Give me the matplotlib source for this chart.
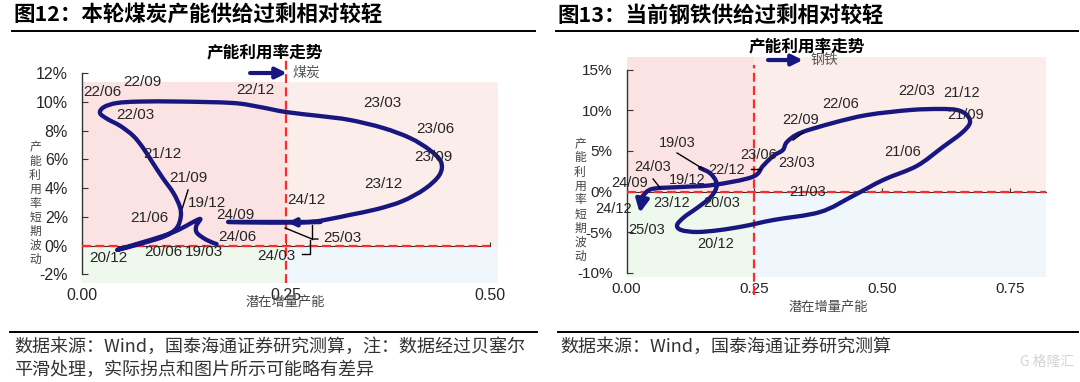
import matplotlib
matplotlib.use('Agg')
import matplotlib.pyplot as plt
from matplotlib.lines import Line2D
from matplotlib.patches import Rectangle, PathPatch
from matplotlib.path import Path

W, H = 1080, 382
CJK = ['Noto Sans CJK SC', 'DejaVu Sans']
LAT = ['Liberation Sans', 'DejaVu Sans']
plt.rcParams['font.family'] = LAT

NAVY = '#17177f'
RED = '#ff2b2b'
TXT = '#262626'
BG_TL, BG_TR, BG_BL, BG_BR = '#fce3e3', '#fbede9', '#eff8ec', '#eff7fc'

# ---------------- data: coal (图12) ----------------
coal_x = [0.165, 0.153, 0.141, 0.140, 0.145, 0.134, 0.118, 0.099, 0.075, 0.043,
          0.075, 0.102, 0.116, 0.121, 0.120, 0.112, 0.099, 0.086, 0.075, 0.063,
          0.047, 0.031, 0.022, 0.027, 0.043, 0.071, 0.120, 0.185, 0.218, 0.250,
          0.292, 0.328, 0.369, 0.402, 0.426, 0.440, 0.438, 0.420, 0.393, 0.362,
          0.328, 0.304, 0.279, 0.230, 0.179, 0.230, 0.292, 0.252]
coal_y = [0.10, 0.38, 0.87, 1.36, 1.85, 1.57, 1.08, 0.66, 0.24, -0.31,
          0.17, 0.66, 1.22, 1.99, 2.68, 3.66, 4.70, 5.82, 6.79, 7.63,
          8.33, 8.82, 9.23, 9.65, 9.93, 10.03, 10.03, 9.93, 9.65, 9.30,
          9.02, 8.75, 8.19, 7.49, 6.66, 5.82, 4.91, 3.94, 3.10, 2.54,
          2.13, 1.85, 1.64, 1.60, 1.64, 1.64, 1.64, 1.60]
coal_labels = ['22/06', '22/09', '22/03', '21/12', '21/09', '19/12', '22/12', '23/03',
               '23/06', '23/09', '23/12', '24/12', '24/09', '21/06', '24/06', '20/06',
               '19/03', '24/03', '25/03', '20/12']
coal_label_x = [0.025, 0.074, 0.066, 0.098, 0.130, 0.153, 0.213, 0.368,
                0.433, 0.431, 0.369, 0.275, 0.188, 0.083, 0.190, 0.100,
                0.150, 0.238, 0.319, 0.032]
coal_label_y = [10.70, 11.39, 9.09, 6.38, 4.70, 2.96, 10.84, 9.93,
                8.12, 6.17, 4.29, 3.17, 2.13, 1.92, 0.59, -0.45,
                -0.45, -0.73, 0.52, -0.87]
coal_leader_x = [[0.130, 0.123], [0.249, 0.282, 0.289], [0.282, 0.282], [0.279, 0.279, 0.270]]
coal_leader_y = [[3.87, 2.61], [1.22, 0.45, 0.45], [1.43, 0.45], [0.38, -0.59, -0.59]]
coal_yticks = [-2, 0, 2, 4, 6, 8, 10, 12]
coal_xticks = [0.00, 0.25, 0.50]

# ---------------- data: steel (图13) ----------------
steel_x = [0.144, 0.163, 0.175, 0.175, 0.163, 0.138, 0.113, 0.099, 0.107, 0.138,
           0.183, 0.232, 0.287, 0.379, 0.443, 0.502, 0.568, 0.619, 0.656, 0.672,
           0.666, 0.647, 0.613, 0.555, 0.471, 0.404, 0.340, 0.314, 0.306, 0.287,
           0.267, 0.246, 0.169, 0.105, 0.050, 0.032, 0.026]
steel_y = [2.89, 2.28, 1.29, 0.31, -0.80, -2.03, -3.14, -4.12, -4.74, -4.98,
           -4.74, -4.24, -3.51, -2.52, -0.55, 1.41, 3.14, 5.47, 7.20, 8.43,
           9.41, 10.02, 10.15, 10.02, 9.41, 8.43, 7.20, 6.09, 5.10, 4.37,
           3.14, 1.78, 0.80, 0.55, 0.31, -0.55, -2.64]
steel_labels = ['19/03', '24/03', '24/09', '19/12', '22/12', '23/06', '23/03', '22/09',
                '22/06', '22/03', '21/12', '21/09', '21/06', '21/03', '23/12', '20/03',
                '24/12', '25/03', '20/12']
steel_label_x = [0.099, 0.052, 0.007, 0.118, 0.195, 0.259, 0.333, 0.341,
                 0.420, 0.567, 0.655, 0.664, 0.541, 0.355, 0.089, 0.187,
                 -0.026, 0.040, 0.175]
steel_label_y = [5.97, 3.01, 1.05, 1.41, 2.64, 4.49, 3.51, 8.79,
                 10.76, 12.36, 12.12, 9.41, 4.86, -0.06, -1.41, -1.41,
                 -2.15, -4.74, -6.46]
steel_leader_x = [[0.099, 0.150], [0.052, 0.066], [0.244, 0.261], [0.326, 0.345]]
steel_leader_y = [[4.74, 2.77], [1.54, 0.43], [2.77, 2.77], [6.33, 7.20]]
steel_yticks = [-10, -5, 0, 5, 10, 15]
steel_xticks = [0.00, 0.25, 0.50, 0.75]

THRESH_X = 0.25

fig = plt.figure(figsize=(W / 100, H / 100), dpi=100)


def add_axes_px(left, top, right, bottom):
    return fig.add_axes([left / W, 1 - bottom / H, (right - left) / W, (bottom - top) / H])


def bezier_path(xs, ys):
    """Smooth (Bezier) path through the read points, as the source chart uses."""
    pts = list(zip(xs, ys))
    n = len(pts)
    verts = [pts[0]]
    codes = [Path.MOVETO]
    for i in range(n - 1):
        p0 = pts[i - 1] if i > 0 else pts[i]
        p1 = pts[i]
        p2 = pts[i + 1]
        p3 = pts[i + 2] if i + 2 < n else pts[i + 1]
        c1 = (p1[0] + (p2[0] - p0[0]) / 6, p1[1] + (p2[1] - p0[1]) / 6)
        c2 = (p2[0] - (p3[0] - p1[0]) / 6, p2[1] - (p3[1] - p1[1]) / 6)
        verts += [c1, c2, p2]
        codes += [Path.CURVE4] * 3
    return Path(verts, codes)


def build(ax, xs, ys, lab, lx, ly, ldx, ldy, xticks, yticks, xlim, ylim, ybounds,
          xbound, bg_top, vdash, tick_fs, lab_fs, legend, head):
    ax.set_xlim(*xlim)
    ax.set_ylim(*ylim)
    ax.patch.set_alpha(0)
    x0, x1 = xlim
    y0 = ylim[0]
    ax.add_patch(Rectangle((x0, 0), THRESH_X - x0, bg_top, color=BG_TL, zorder=0, lw=0))
    ax.add_patch(Rectangle((THRESH_X, 0), x1 - THRESH_X, bg_top, color=BG_TR, zorder=0, lw=0))
    ax.add_patch(Rectangle((x0, y0), THRESH_X - x0, -y0, color=BG_BL, zorder=0, lw=0))
    ax.add_patch(Rectangle((THRESH_X, y0), x1 - THRESH_X, -y0, color=BG_BR, zorder=0, lw=0))

    for s in ['top', 'right']:
        ax.spines[s].set_visible(False)
    ax.spines['left'].set_bounds(*ybounds)
    ax.spines['left'].set_color('#333333')
    ax.spines['left'].set_linewidth(1.0)
    ax.spines['bottom'].set_position(('data', 0))
    ax.spines['bottom'].set_bounds(0, xbound)
    ax.spines['bottom'].set_color('#333333')
    ax.spines['bottom'].set_linewidth(0.8)
    ax.set_yticks(yticks)
    ax.set_yticklabels([f'{v}%' for v in yticks])
    ax.tick_params(axis='y', direction='in', length=4, pad=10, labelsize=tick_fs,
                   labelcolor=TXT, color='#333333')
    ax.set_xticks(xticks)
    ax.tick_params(axis='x', direction='in', length=3, labelbottom=False, color='#333333')
    sec = ax.secondary_xaxis(0)
    sec.set_xticks(xticks)
    sec.set_xticklabels([f'{v:.2f}' for v in xticks])
    sec.spines['bottom'].set_visible(False)
    sec.tick_params(length=0, pad=4, labelsize=tick_fs, labelcolor=TXT)

    # red dashed threshold lines
    ax.plot([0, xbound], [0, 0], color=RED, lw=1.6, ls=(0, (4, 2)), zorder=3)
    ax.plot([THRESH_X, THRESH_X], list(vdash), color=RED, lw=1.6, ls=(0, (4, 2)),
            zorder=3, clip_on=False)

    # smoothed curve with end arrow
    ax.add_patch(PathPatch(bezier_path(xs[:-1], ys[:-1]), fill=False, edgecolor=NAVY,
                           lw=3.1, capstyle='round', joinstyle='round', zorder=4))
    ax.annotate('', xy=(xs[-1], ys[-1]), xytext=(xs[-2], ys[-2]),
                arrowprops=dict(arrowstyle='-|>', color=NAVY, lw=3.1,
                                mutation_scale=head, shrinkA=0, shrinkB=0), zorder=4)
    for px, py in zip(ldx, ldy):
        ax.plot(px, py, color='black', lw=1.0, zorder=5)
    for t, px, py in zip(lab, lx, ly):
        ax.text(px, py, t, ha='center', va='center', fontsize=lab_fs, color=TXT, zorder=6)

    (tx, ty), (ax0, ax1, ay), (nx, name) = legend
    ax.text(tx, ty, '产能利用率走势', ha='center', va='center', fontsize=12,
            fontweight='bold', family=CJK, color='black')
    ax.annotate('', xy=(ax1, ay), xytext=(ax0, ay),
                arrowprops=dict(arrowstyle='-|>', color=NAVY, lw=3,
                                mutation_scale=16, shrinkA=0, shrinkB=0),
                annotation_clip=False)
    ax.text(nx, ay, name, ha='left', va='center', fontsize=10, family=CJK, color='#555555')


# left chart
axL = add_axes_px(82, 245.5 - 13.4 * 14.35, 82 + 0.51 * 816, 245.5 + 2.6 * 14.35)
build(axL, coal_x, coal_y, coal_labels, coal_label_x, coal_label_y, coal_leader_x,
      coal_leader_y, coal_xticks, coal_yticks, (0, 0.51), (-2.6, 13.4), (-2, 12), 0.50,
      11.4, (-2.6, 13.3), 11.5, 11,
      ((0.224, 13.45), (0.206, 0.251, 12.02), (0.258, '煤炭')), 11)

# right chart
axR = add_axes_px(626.5, 191.5 - 16.6 * 8.13, 626.5 + 0.82 * 511, 191.5 + 10.5 * 8.13)
build(axR, steel_x, steel_y, steel_labels, steel_label_x, steel_label_y, steel_leader_x,
      steel_leader_y, steel_xticks, steel_yticks, (0, 0.82), (-10.5, 16.6), (-10, 15), 0.82,
      16.5, (-12.7, 15.6), 11, 10.5,
      ((0.353, 17.9), (0.277, 0.345, 16.17), (0.360, '钢铁')), 19)

# y / x axis labels
ylab = '\n'.join('产能利用率短期波动')
fig.text(35 / W, 1 - 203 / H, ylab, ha='center', va='center', fontsize=8.5,
         linespacing=1.1, family=CJK, color='#444444')
fig.text(580 / W, 1 - 200 / H, ylab, ha='center', va='center', fontsize=8.5,
         linespacing=1.1, family=CJK, color='#444444')
fig.text(285 / W, 1 - 302 / H, '潜在增量产能', ha='center', va='center', fontsize=9.5,
         family=CJK, color='#444444')
fig.text(828 / W, 1 - 307 / H, '潜在增量产能', ha='center', va='center', fontsize=9.5,
         family=CJK, color='#444444')

# titles
fig.text(13 / W, 1 - 15 / H, '图12：本轮煤炭产能供给过剩相对较轻', ha='left', va='center',
         fontsize=15.5, fontweight='bold', family=CJK, color='black')
fig.text(557 / W, 1 - 15 / H, '图13：当前钢铁供给过剩相对较轻', ha='left', va='center',
         fontsize=15.5, fontweight='bold', family=CJK, color='black')
for xa, xb, yy in [(12, 535, 31), (556, 1078, 31), (10, 537, 332), (558, 1078, 332)]:
    fig.add_artist(Line2D([xa / W, xb / W], [1 - yy / H, 1 - yy / H], color='black',
                          lw=1.4, transform=fig.transFigure))

# footers
fig.text(14 / W, 1 - 347 / H, '数据来源：Wind，国泰海通证券研究测算，注：数据经过贝塞尔',
         ha='left', va='center', fontsize=13, family=CJK, color='#333333')
fig.text(14 / W, 1 - 370 / H, '平滑处理，实际拐点和图片所示可能略有差异',
         ha='left', va='center', fontsize=13, family=CJK, color='#333333')
fig.text(560 / W, 1 - 347 / H, '数据来源：Wind，国泰海通证券研究测算',
         ha='left', va='center', fontsize=13, family=CJK, color='#333333')
fig.text(1074 / W, 1 - 362 / H, 'G 格隆汇', ha='right', va='center', fontsize=10,
         family=CJK, color='#d4d4d4')

fig.savefig('out.png', dpi=100)
